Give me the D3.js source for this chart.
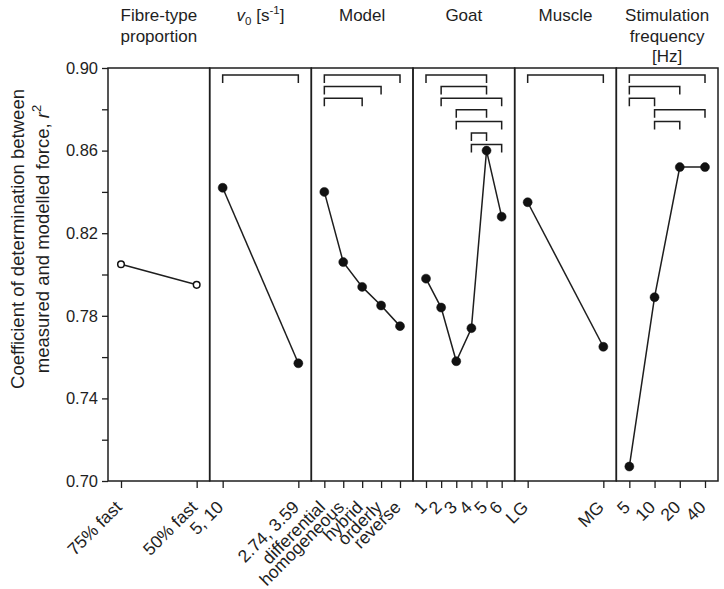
<!DOCTYPE html>
<html>
<head>
<meta charset="utf-8">
<script src="https://cdn.jsdelivr.net/npm/d3@7"></script>
<style>
  html, body { margin: 0; padding: 0; background: #fff; }
  svg { display: block; font-family: "Liberation Sans", Arial, Helvetica, sans-serif; }
</style>
</head>
<body>
<svg id="chart" width="724" height="589"></svg>
<script>
// ---- data ----
const fibreCats = ["75% fast", "50% fast"];
const fibreVals = [0.805, 0.795];
const v0Cats = ["5, 10", "2.74, 3.59"];
const v0Vals = [0.842, 0.757];
const modelCats = ["differential", "homogeneous", "hybrid", "orderly", "reverse"];
const modelVals = [0.840, 0.806, 0.794, 0.785, 0.775];
const goatCats = ["1", "2", "3", "4", "5", "6"];
const goatVals = [0.798, 0.784, 0.758, 0.774, 0.860, 0.828];
const muscleCats = ["LG", "MG"];
const muscleVals = [0.835, 0.765];
const stimCats = ["5", "10", "20", "40"];
const stimVals = [0.707, 0.789, 0.852, 0.852];

// significance brackets (pairs of category indices)
const fibreBrackets = [];
const v0Brackets = [[0, 1]];
const modelBrackets = [[0, 4], [0, 3], [0, 2]];
const goatBrackets = [[0, 4], [1, 4], [1, 5], [2, 4], [2, 5], [3, 4], [3, 5]];
const muscleBrackets = [[0, 1]];
const stimBrackets = [[0, 3], [0, 2], [0, 1], [1, 3], [1, 2]];

const yTicks = [0.70, 0.72, 0.74, 0.76, 0.78, 0.80, 0.82, 0.84, 0.86, 0.88, 0.90];
const yTickLabels = ["0.70", "", "0.74", "", "0.78", "", "0.82", "", "0.86", "", "0.90"];

const panels = [
  { title: ["Fibre-type", "proportion"], cats: fibreCats, vals: fibreVals, brackets: fibreBrackets, open: true },
  { title: null, cats: v0Cats, vals: v0Vals, brackets: v0Brackets },
  { title: ["Model"], cats: modelCats, vals: modelVals, brackets: modelBrackets },
  { title: ["Goat"], cats: goatCats, vals: goatVals, brackets: goatBrackets },
  { title: ["Muscle"], cats: muscleCats, vals: muscleVals, brackets: muscleBrackets },
  { title: ["Stimulation", "frequency", "[Hz]"], cats: stimCats, vals: stimVals, brackets: stimBrackets }
];

// ---- layout ----
const mLeft = 108, mRight = 718, mTop = 68, mBottom = 481;
const svg = d3.select("#chart");
const ink = "#1e1e1e";

const y = d3.scaleLinear().domain([0.70, 0.90]).range([mBottom, mTop]);
const panelScale = d3.scaleBand().domain(d3.range(panels.length)).range([mLeft, mRight]).paddingInner(0).paddingOuter(0);

// y axis
const yAxis = d3.axisLeft(y).tickValues(yTicks).tickSize(6).tickPadding(4)
  .tickFormat((d, i) => yTickLabels[i]);
const gy = svg.append("g").attr("transform", `translate(${mLeft},0)`).call(yAxis);
gy.select(".domain").remove();
gy.selectAll(".tick line").attr("stroke", ink).attr("stroke-width", 1.3);
gy.selectAll(".tick text").attr("font-size", 16.5).attr("fill", ink)
  .attr("font-family", '"Liberation Sans", Arial, sans-serif');

// y axis title
const yt = svg.append("text")
  .attr("transform", `translate(24,239) rotate(-90)`)
  .attr("text-anchor", "middle").attr("font-size", 18.5).attr("fill", ink);
yt.append("tspan").attr("x", 0).attr("dy", 0).text("Coefficient of determination between");
const l2 = yt.append("tspan").attr("x", 0).attr("dy", 25);
l2.append("tspan").text("measured and modelled force, ");
l2.append("tspan").attr("font-style", "italic").text("r");
l2.append("tspan").attr("font-size", 13).attr("dy", -8).text("2");

panels.forEach((p, pi) => {
  const x0 = panelScale(pi), x1 = x0 + panelScale.bandwidth();
  const x = d3.scalePoint().domain(p.cats).range([x0 + 13, x1 - 13]);
  const g = svg.append("g");

  // frame
  g.append("rect").attr("x", x0).attr("y", mTop).attr("width", x1 - x0).attr("height", mBottom - mTop)
    .attr("fill", "none").attr("stroke", ink).attr("stroke-width", 1.5);

  // x axis
  const xAxis = d3.axisBottom(x).tickSize(7).tickPadding(0);
  const gx = g.append("g").attr("transform", `translate(0,${mBottom})`).call(xAxis);
  gx.select(".domain").remove();
  gx.selectAll(".tick line").attr("stroke", ink).attr("stroke-width", 1.3);
  gx.selectAll(".tick text")
    .attr("font-size", 17.5).attr("fill", ink)
    .attr("font-family", '"Liberation Sans", Arial, sans-serif')
    .attr("text-anchor", "end")
    .attr("y", null)
    .attr("transform", "translate(-3,23) rotate(-45)")
    .attr("dy", "0.35em");

  // brackets
  p.brackets.forEach((b, k) => {
    const by = 75 + k * 11.6;
    const xa = x(p.cats[b[0]]), xb = x(p.cats[b[1]]);
    g.append("path")
      .attr("d", `M${xa},${by + 8}V${by}H${xb}V${by + 8}`)
      .attr("fill", "none").attr("stroke", ink).attr("stroke-width", 1.5);
  });

  // line
  const line = d3.line().x((d, i) => x(p.cats[i])).y(d => y(d));
  g.append("path").datum(p.vals).attr("d", line)
    .attr("fill", "none").attr("stroke", ink).attr("stroke-width", 1.5);

  // points
  g.selectAll("circle.pt").data(p.vals).join("circle")
    .attr("cx", (d, i) => x(p.cats[i])).attr("cy", d => y(d))
    .attr("r", p.open ? 3.3 : 4.5)
    .attr("fill", p.open ? "#fff" : "#111")
    .attr("stroke", "#111").attr("stroke-width", p.open ? 1.5 : 0.5);

  // titles
  const cx = (x0 + x1) / 2;
  if (p.title) {
    const t = g.append("text").attr("text-anchor", "middle").attr("font-size", 17).attr("fill", ink);
    p.title.forEach((ln, li) => {
      t.append("tspan").attr("x", cx).attr("y", 21 + li * 20.5).text(ln);
    });
  } else {
    const t = g.append("text").attr("text-anchor", "middle").attr("font-size", 17).attr("fill", ink)
      .attr("x", cx).attr("y", 21);
    t.append("tspan").attr("font-style", "italic").text("v");
    t.append("tspan").attr("font-size", 11.5).attr("dy", 4).text("0");
    t.append("tspan").attr("dy", -4).text(" [s");
    t.append("tspan").attr("font-size", 11.5).attr("dy", -7).text("-1");
    t.append("tspan").attr("dy", 7).text("]");
  }
});
</script>
</body>
</html>
